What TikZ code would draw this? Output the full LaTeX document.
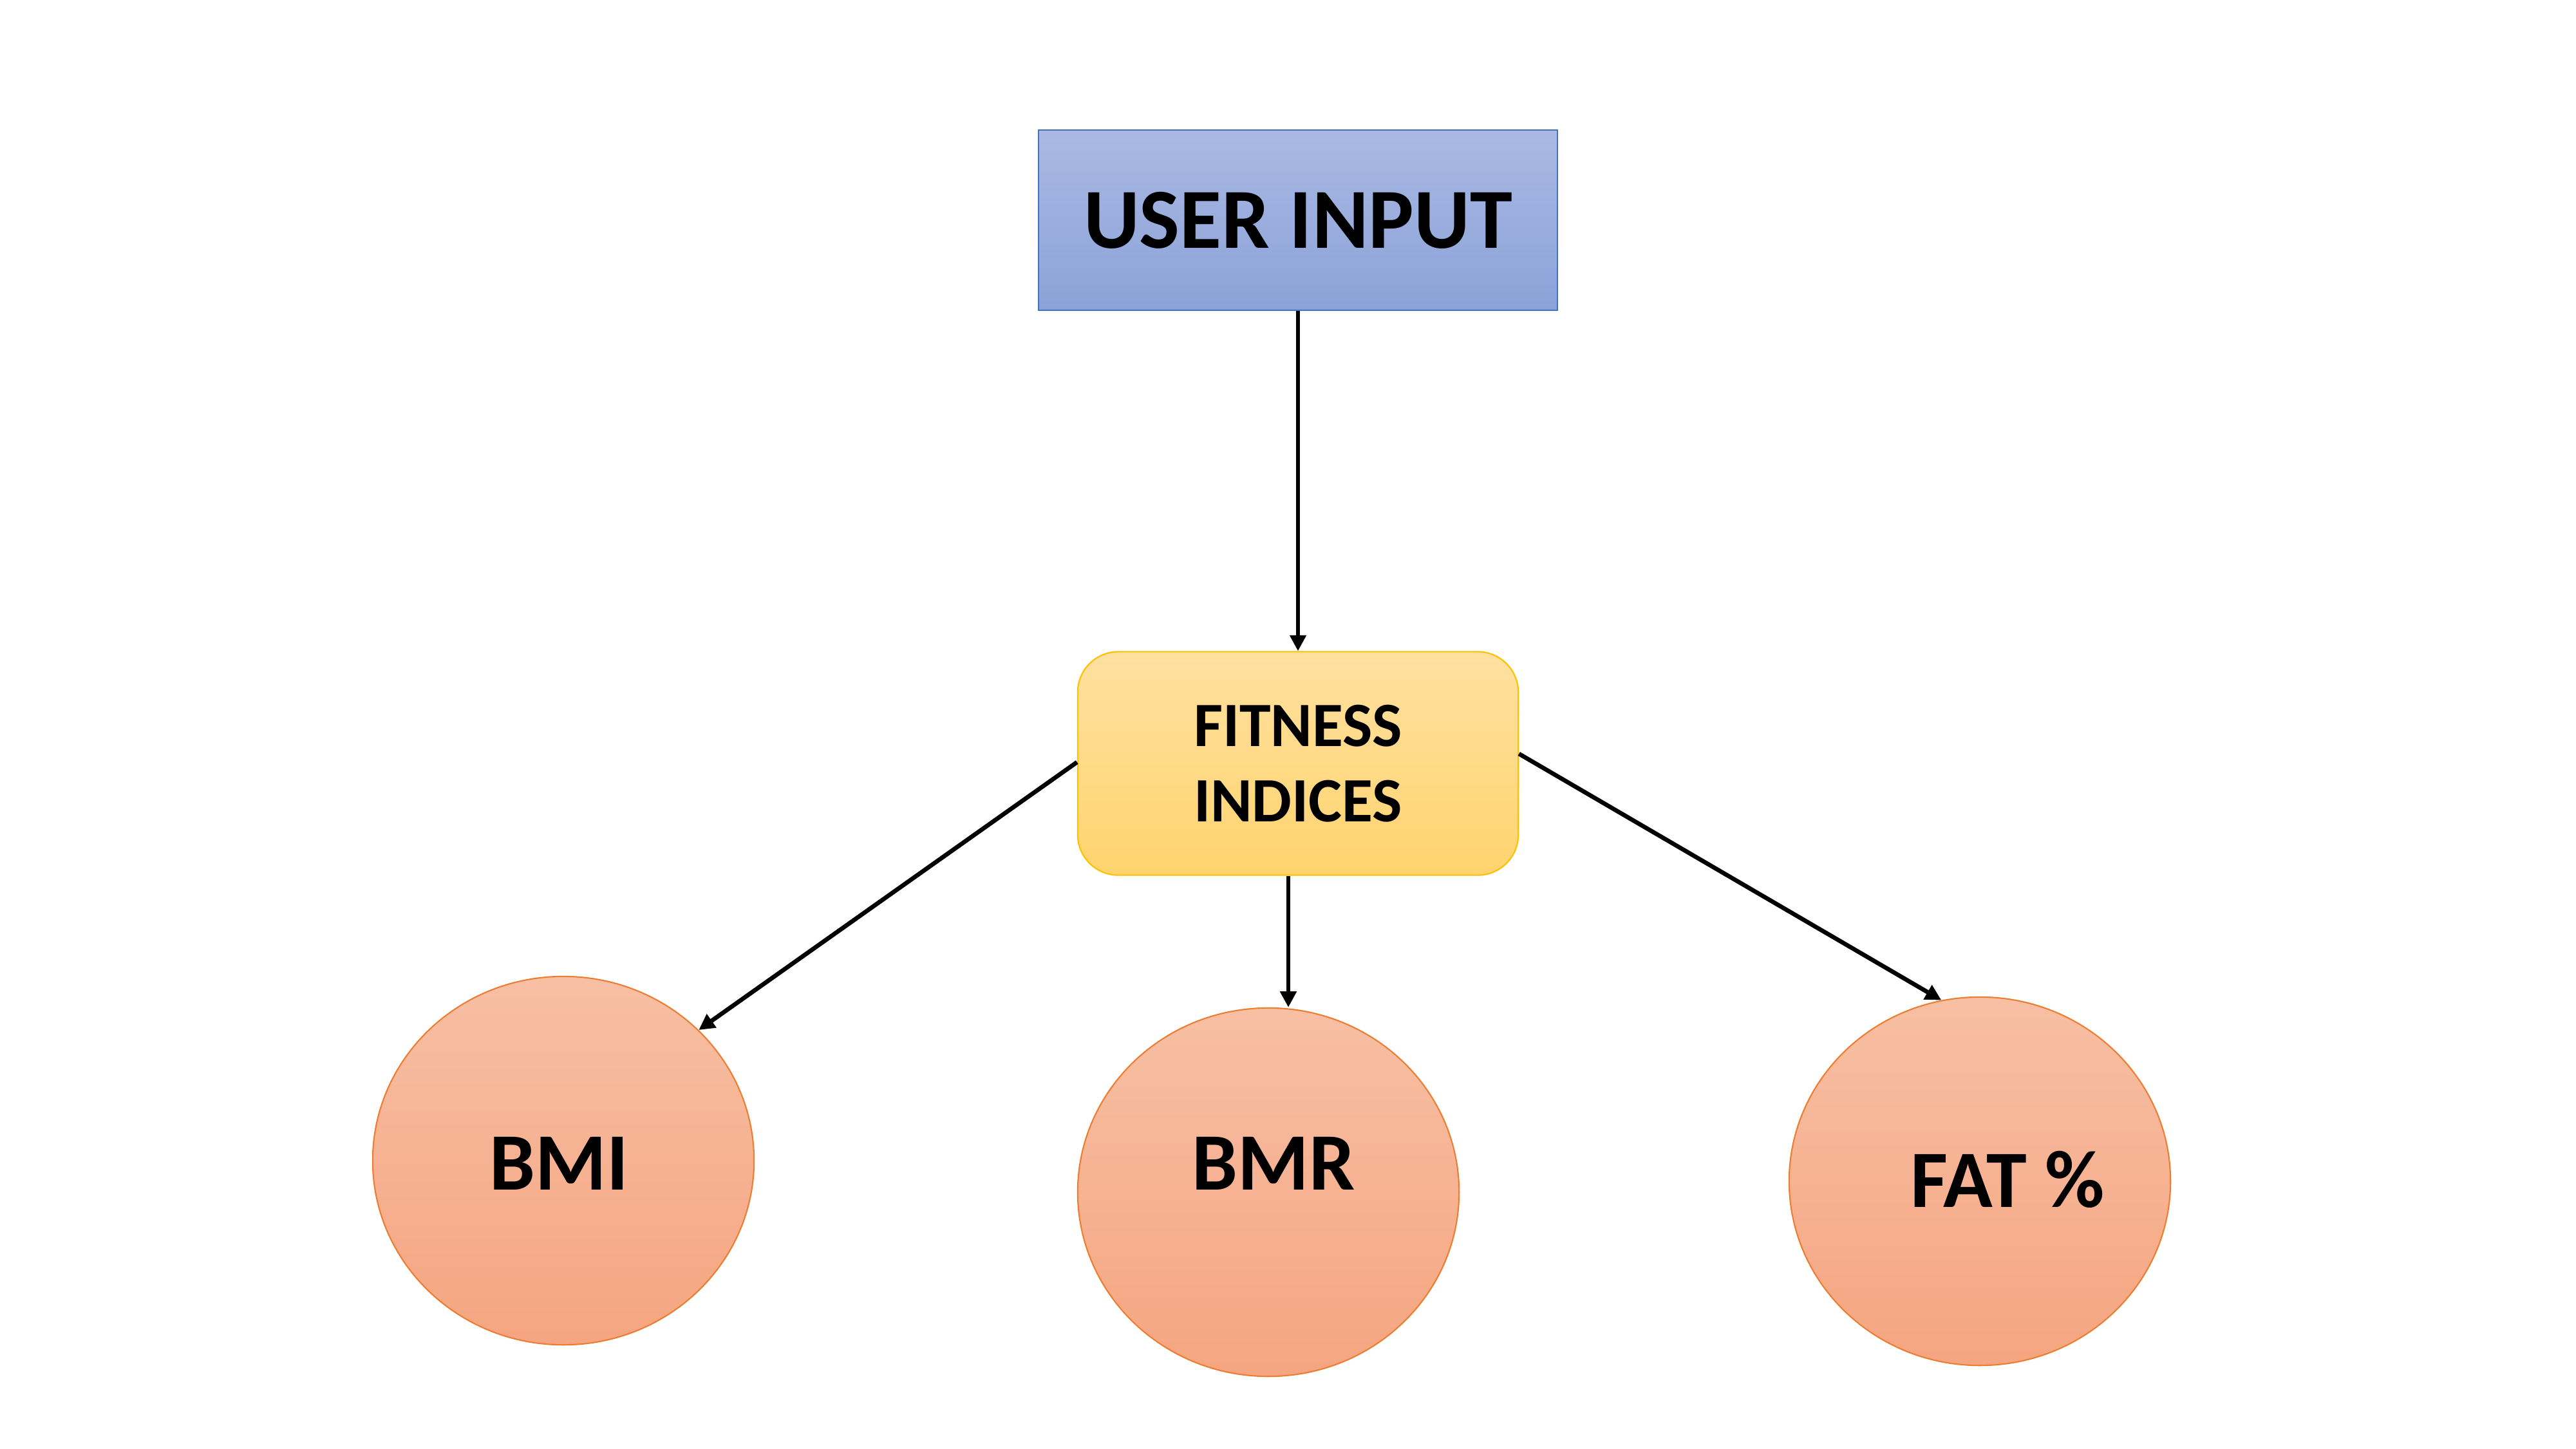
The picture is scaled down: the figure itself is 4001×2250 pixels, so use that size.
\documentclass[tikz,border=0pt]{standalone}
\usepackage{fontspec}
\setmainfont{Carlito}
\usetikzlibrary{shapes.geometric,arrows.meta}
\definecolor{bluetop}{RGB}{170,185,227}
\definecolor{bluebot}{RGB}{139,162,216}
\definecolor{blueedge}{RGB}{68,114,196}
\definecolor{goldtop}{RGB}{255,224,160}
\definecolor{goldbot}{RGB}{255,212,110}
\definecolor{goldedge}{RGB}{255,192,0}
\definecolor{orgtop}{RGB}{247,191,164}
\definecolor{orgbot}{RGB}{245,165,128}
\definecolor{orgedge}{RGB}{237,125,49}
\tikzset{
  inbox/.style={draw=blueedge,line width=0.6pt,top color=bluetop,bottom color=bluebot,
    minimum width=8.06cm,minimum height=2.80cm,inner sep=0pt,
    font=\fontsize{37.8}{45}\selectfont\bfseries},
  fitbox/.style={draw=goldedge,line width=0.6pt,top color=goldtop,bottom color=goldbot,
    rounded corners=0.63cm,minimum width=6.84cm,minimum height=3.47cm,inner sep=0pt,
    align=center,font=\fontsize{27.9}{33.4}\selectfont\bfseries},
  bubble/.style={ellipse,draw=orgedge,line width=0.6pt,top color=orgtop,bottom color=orgbot,
    minimum width=5.92cm,minimum height=5.72cm,inner sep=0pt},
  bubtext/.style={inner sep=0pt,font=\fontsize{36}{43}\selectfont\bfseries},
  arr/.style={line width=1.9pt,-{Triangle[length=7pt,width=7pt]}}
}
\begin{document}
\begin{tikzpicture}[x=0.01cm,y=-0.01cm]
\useasboundingbox (0,0) rectangle (4001,2250);
\node[inbox] (ui) at (2016,342) {USER INPUT};
\node[fitbox] (fit) at (2016,1186) {FITNESS\\INDICES};
\node[bubble] (bmi) at (875,1803) {};
\node[bubble] (bmr) at (1970,1852) {};
\node[bubble] (fat) at (3075,1835) {};
\node[bubtext] (tbmi) at (868,1807) {BMI};
\node[bubtext] (tbmr) at (1978,1807) {BMR};
\node[bubtext] (tfat) at (3118,1832) {FAT \%};
\draw[arr] (ui.south) -- (fit.north);
\draw[arr] ([yshift=0.02cm]fit.west) -- (bmi.44);
\draw[arr] ([xshift=-0.15cm]fit.south) -- ([xshift=-0.15cm]fit.south |- bmr.north);
\draw[arr] ([yshift=0.15cm]fit.east) -- (fat.102);
\end{tikzpicture}
\end{document}
